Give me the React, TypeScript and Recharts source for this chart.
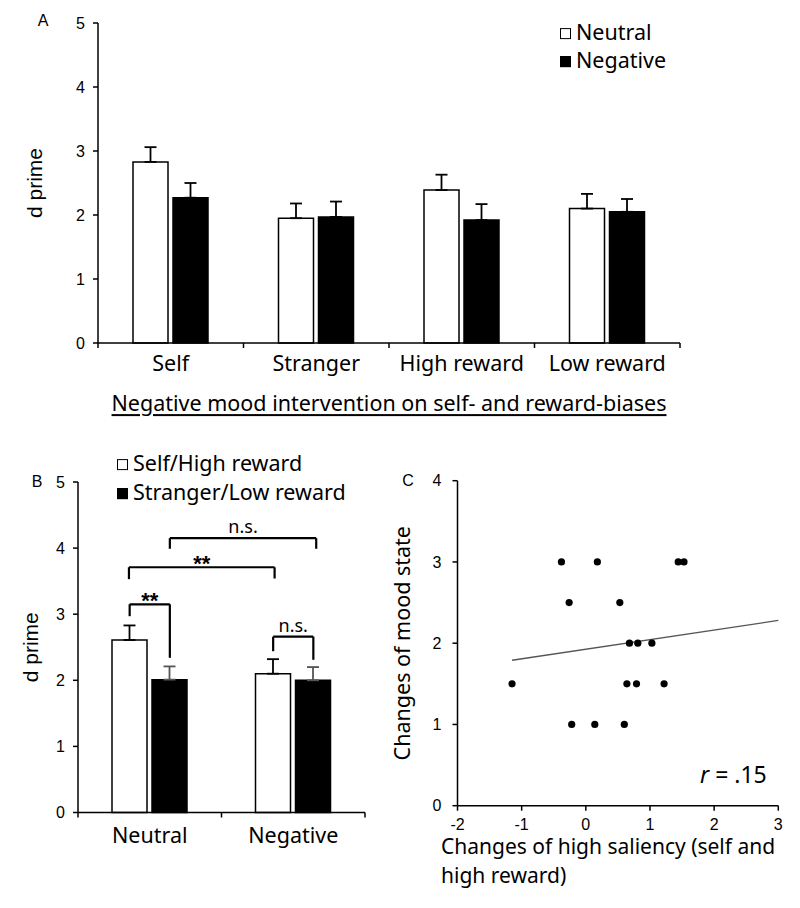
import React from 'react';
import {
  BarChart,
  Bar,
  XAxis,
  YAxis,
  ErrorBar,
  ReferenceLine,
  ScatterChart,
  Scatter,
} from 'recharts';

// ---------- Panel A data ----------
const categoriesA = ['Self', 'Stranger', 'High reward', 'Low reward'];
const neutralA = [2.83, 1.95, 2.39, 2.1];
const neutralErrA = [0.23, 0.23, 0.24, 0.23];
const negativeA = [2.27, 1.97, 1.92, 2.05];
const negativeErrA = [0.23, 0.24, 0.25, 0.2];
const dPrimeTicks = [0, 1, 2, 3, 4, 5];

// ---------- Panel B data ----------
const moodB = ['Neutral', 'Negative'];
const highB = [2.61, 2.1];
const highErrB = [0.22, 0.22];
const lowB = [2.01, 2.0];
const lowErrB = [0.2, 0.2];

// significance brackets (x in band units of a 0..2 annotation axis, y in d prime)
const sigLabels = ['**', '**', 'n.s.', 'n.s.'];
const bracketLeft = [0.36, 0.355, 0.64, 1.36];
const bracketRight = [0.64, 1.37, 1.66, 1.64];
const bracketTop = [3.15, 3.71, 4.15, 2.66];
const bracketLeftEnd = [2.97, 3.53, 3.99, 2.44];
const bracketRightEnd = [2.34, 3.54, 3.99, 2.31];

// ---------- Panel C data ----------
const saliencyChange = [-1.15, -0.38, 0.18, -0.26, 0.53, 0.68, 0.81, 1.03, 0.64, 0.79, 1.22, -0.22, 0.14, 0.6, 1.44, 1.53];
const moodChange = [1.5, 3, 3, 2.5, 2.5, 2, 2, 2, 1.5, 1.5, 1.5, 1, 1, 1, 3, 3];
const trendX = [-1.15, 3];
const trendY = [1.79, 2.28];
const xTicksC = [-2, -1, 0, 1, 2, 3];
const yTicksC = [0, 1, 2, 3, 4];

const dataA = categoriesA.map((c, i) => ({
  cat: c,
  neutral: neutralA[i],
  neutralErr: [0, neutralErrA[i]],
  negative: negativeA[i],
  negativeErr: [0, negativeErrA[i]],
}));

const dataB = moodB.map((c, i) => ({
  cat: c,
  high: highB[i],
  highErr: [0, highErrB[i]],
  low: lowB[i],
  lowErr: [0, lowErrB[i]],
}));

const dataC = saliencyChange.map((x, i) => ({ x, y: moodChange[i] }));

const NUM_FONT = '"Liberation Sans", Arial, sans-serif';
const TXT_FONT = '"Noto Sans", "Open Sans", sans-serif';

function CatTick(props: any) {
  const { x, y, payload, index, labelDy, fontSize = 20 } = props;
  const half = payload && typeof payload.offset === 'number' ? payload.offset : 0;
  return (
    <g>
      {index === 0 && half > 0 ? (
        <line x1={x - half} x2={x - half} y1={y} y2={y + 5} stroke="#000" strokeWidth={1.5} />
      ) : null}
      {half > 0 ? (
        <line x1={x + half} x2={x + half} y1={y} y2={y + 5} stroke="#000" strokeWidth={1.5} />
      ) : null}
      <text x={x} y={y + labelDy} textAnchor="middle" fontSize={fontSize} fill="#000" fontFamily={TXT_FONT}>
        {payload.value}
      </text>
    </g>
  );
}

function Dot(props: any) {
  const { cx, cy } = props;
  return <circle cx={cx} cy={cy} r={3.6} fill="#000" />;
}

const axisLine = { stroke: '#000', strokeWidth: 1.5 };
const numTick = { fill: '#000', fontSize: 16, fontFamily: NUM_FONT };

function Txt(props: { x: number; y: number; children: React.ReactNode; size?: number; family?: string; align?: string; style?: any }) {
  const { x, y, children, size = 21.5, family = TXT_FONT, align = 'center', style } = props;
  const tx = align === 'center' ? '-50%' : align === 'right' ? '-100%' : '0';
  return (
    <div
      style={{
        position: 'absolute',
        left: x,
        top: y,
        transform: `translate(${tx}, -50%)`,
        fontSize: size,
        fontFamily: family,
        lineHeight: 1.2,
        whiteSpace: 'nowrap',
        color: '#000',
        ...style,
      }}
    >
      {children}
    </div>
  );
}

function Swatch({ black }: { black: boolean }) {
  return (
    <span
      style={{
        display: 'inline-block',
        width: 9,
        height: 9,
        border: '1.5px solid #000',
        background: black ? '#000' : '#fff',
        marginRight: 5,
        verticalAlign: 'middle',
        position: 'relative',
        top: -1,
      }}
    />
  );
}

export default function App() {
  return (
    <div style={{ position: 'absolute', left: 0, top: 0, width: 800, height: 908, background: '#fff', overflow: 'hidden' }}>
      {/* ---------------- Panel A ---------------- */}
      <div style={{ position: 'absolute', left: 0, top: 0 }}>
        <BarChart
          width={720}
          height={390}
          data={dataA}
          margin={{ top: 23, right: 40, bottom: 7, left: 48 }}
          barSize={35}
          barGap={5}
        >
          <XAxis
            dataKey="cat"
            interval={0}
            height={40}
            tickSize={0}
            tickMargin={0}
            tickLine={false}
            axisLine={axisLine}
            tick={<CatTick labelDy={28} fontSize={21.5} />}
          />
          <YAxis
            domain={[0, 5]}
            ticks={dPrimeTicks}
            interval={0}
            width={50}
            tickSize={5}
            tickMargin={8}
            axisLine={axisLine}
            tickLine={axisLine}
            tick={numTick}
            label={{ value: 'd prime', angle: -90, position: 'center', dx: -38, fontSize: 21, fill: '#000', fontFamily: NUM_FONT }}
          />
          <Bar dataKey="neutral" fill="#fff" stroke="#000" strokeWidth={1.5} isAnimationActive={false}>
            <ErrorBar dataKey="neutralErr" direction="y" width={6} stroke="#000" strokeWidth={1.8} isAnimationActive={false} />
          </Bar>
          <Bar dataKey="negative" fill="#000" stroke="#000" strokeWidth={1.5} isAnimationActive={false}>
            <ErrorBar dataKey="negativeErr" direction="y" width={6} stroke="#000" strokeWidth={1.8} isAnimationActive={false} />
          </Bar>
        </BarChart>
      </div>
      <Txt x={43} y={21} size={16} family={NUM_FONT}>A</Txt>
      <Txt x={560} y={32} align="left"><Swatch black={false} />Neutral</Txt>
      <Txt x={560} y={60} align="left"><Swatch black={true} />Negative</Txt>
      <Txt x={389} y={403} size={21.5} style={{ textDecoration: 'underline', textUnderlineOffset: 3 }}>
        Negative mood intervention on self- and reward-biases
      </Txt>

      {/* ---------------- Panel B ---------------- */}
      <div style={{ position: 'absolute', left: 0, top: 440 }}>
        <BarChart
          width={400}
          height={440}
          data={dataB}
          margin={{ top: 42, right: 35, bottom: 27.5, left: 38 }}
          barSize={35}
          barGap={5}
        >
          <XAxis
            dataKey="cat"
            interval={0}
            height={40}
            tickSize={0}
            tickMargin={0}
            tickLine={false}
            axisLine={axisLine}
            tick={<CatTick labelDy={30} fontSize={21.5} />}
          />
          <YAxis
            domain={[0, 5]}
            ticks={dPrimeTicks}
            interval={0}
            width={40}
            tickSize={5}
            tickMargin={8}
            axisLine={axisLine}
            tickLine={axisLine}
            tick={numTick}
            label={{ value: 'd prime', angle: -90, position: 'center', dx: -27, fontSize: 21, fill: '#000', fontFamily: NUM_FONT }}
          />
          <Bar dataKey="high" fill="#fff" stroke="#000" strokeWidth={1.5} isAnimationActive={false}>
            <ErrorBar dataKey="highErr" direction="y" width={6} stroke="#000" strokeWidth={1.8} isAnimationActive={false} />
          </Bar>
          <Bar dataKey="low" fill="#000" stroke="#000" strokeWidth={1.5} isAnimationActive={false}>
            <ErrorBar dataKey="lowErr" direction="y" width={6} stroke="#555" strokeWidth={1.8} isAnimationActive={false} />
          </Bar>
        </BarChart>
      </div>
      {/* significance brackets overlay, same plot area as panel B, numeric band axis 0..2 */}
      <div style={{ position: 'absolute', left: 0, top: 440, pointerEvents: 'none' }}>
        <ScatterChart width={400} height={440} margin={{ top: 42, right: 35, bottom: 67.5, left: 78 }}>
          <XAxis type="number" dataKey="x" domain={[0, 2]} allowDataOverflow hide />
          <YAxis type="number" dataKey="y" domain={[0, 5]} allowDataOverflow hide />
          {sigLabels.map((lab, i) => (
            <ReferenceLine
              key={`l${i}`}
              segment={[
                { x: bracketLeft[i], y: bracketLeftEnd[i] },
                { x: bracketLeft[i], y: bracketTop[i] },
              ]}
              stroke="#000"
              strokeWidth={2.2}
              ifOverflow="visible"
            />
          ))}
          {sigLabels.map((lab, i) => (
            <ReferenceLine
              key={`r${i}`}
              segment={[
                { x: bracketRight[i], y: bracketRightEnd[i] },
                { x: bracketRight[i], y: bracketTop[i] },
              ]}
              stroke="#000"
              strokeWidth={2.2}
              ifOverflow="visible"
            />
          ))}
          {sigLabels.map((lab, i) => (
            <ReferenceLine
              key={`t${i}`}
              segment={[
                { x: bracketLeft[i], y: bracketTop[i] },
                { x: bracketRight[i], y: bracketTop[i] },
              ]}
              stroke="#000"
              strokeWidth={2.2}
              ifOverflow="visible"
              label={{
                value: lab,
                position: 'top',
                offset: lab === '**' ? -4 : 5,
                fontSize: lab === '**' ? 22 : 18,
                fill: '#000',
                fontFamily: lab === '**' ? NUM_FONT : TXT_FONT,
                fontWeight: lab === '**' ? 'bold' : 'normal',
              }}
            />
          ))}
        </ScatterChart>
      </div>
      <Txt x={37} y={482} size={16} family={NUM_FONT}>B</Txt>
      <Txt x={117} y={463} align="left"><Swatch black={false} />Self/High reward</Txt>
      <Txt x={117} y={492} align="left"><Swatch black={true} />Stranger/Low reward</Txt>

      {/* ---------------- Panel C ---------------- */}
      <div style={{ position: 'absolute', left: 380, top: 440 }}>
        <ScatterChart width={420} height={468} margin={{ top: 40.7, right: 21.7, bottom: 72.3, left: 17.5 }}>
          <XAxis
            type="number"
            dataKey="x"
            domain={[-2, 3]}
            ticks={xTicksC}
            interval={0}
            height={30}
            tickSize={5}
            tickMargin={7.5}
            axisLine={axisLine}
            tickLine={axisLine}
            tick={numTick}
          />
          <YAxis
            type="number"
            dataKey="y"
            domain={[0, 4]}
            ticks={yTicksC}
            interval={0}
            width={60}
            tickSize={5}
            tickMargin={11}
            axisLine={axisLine}
            tickLine={axisLine}
            tick={numTick}
            label={{ value: 'Changes of mood state', angle: -90, position: 'center', dx: -25, fontSize: 21.5, fill: '#000', fontFamily: TXT_FONT }}
          />
          <ReferenceLine
            segment={[
              { x: trendX[0], y: trendY[0] },
              { x: trendX[1], y: trendY[1] },
            ]}
            stroke="#555"
            strokeWidth={1.3}
          />
          <Scatter data={dataC} shape={<Dot />} isAnimationActive={false} />
        </ScatterChart>
      </div>
      <Txt x={408} y={481} size={16} family={NUM_FONT}>C</Txt>
      <Txt x={700} y={775} size={23} align="left">
        <i>r</i> = .15
      </Txt>
      <div
        style={{
          position: 'absolute',
          left: 441,
          top: 832,
          fontSize: 21,
          lineHeight: '29px',
          fontFamily: TXT_FONT,
          color: '#000',
          whiteSpace: 'nowrap',
        }}
      >
        Changes of high saliency (self and
        <br />
        high reward)
      </div>
    </div>
  );
}
